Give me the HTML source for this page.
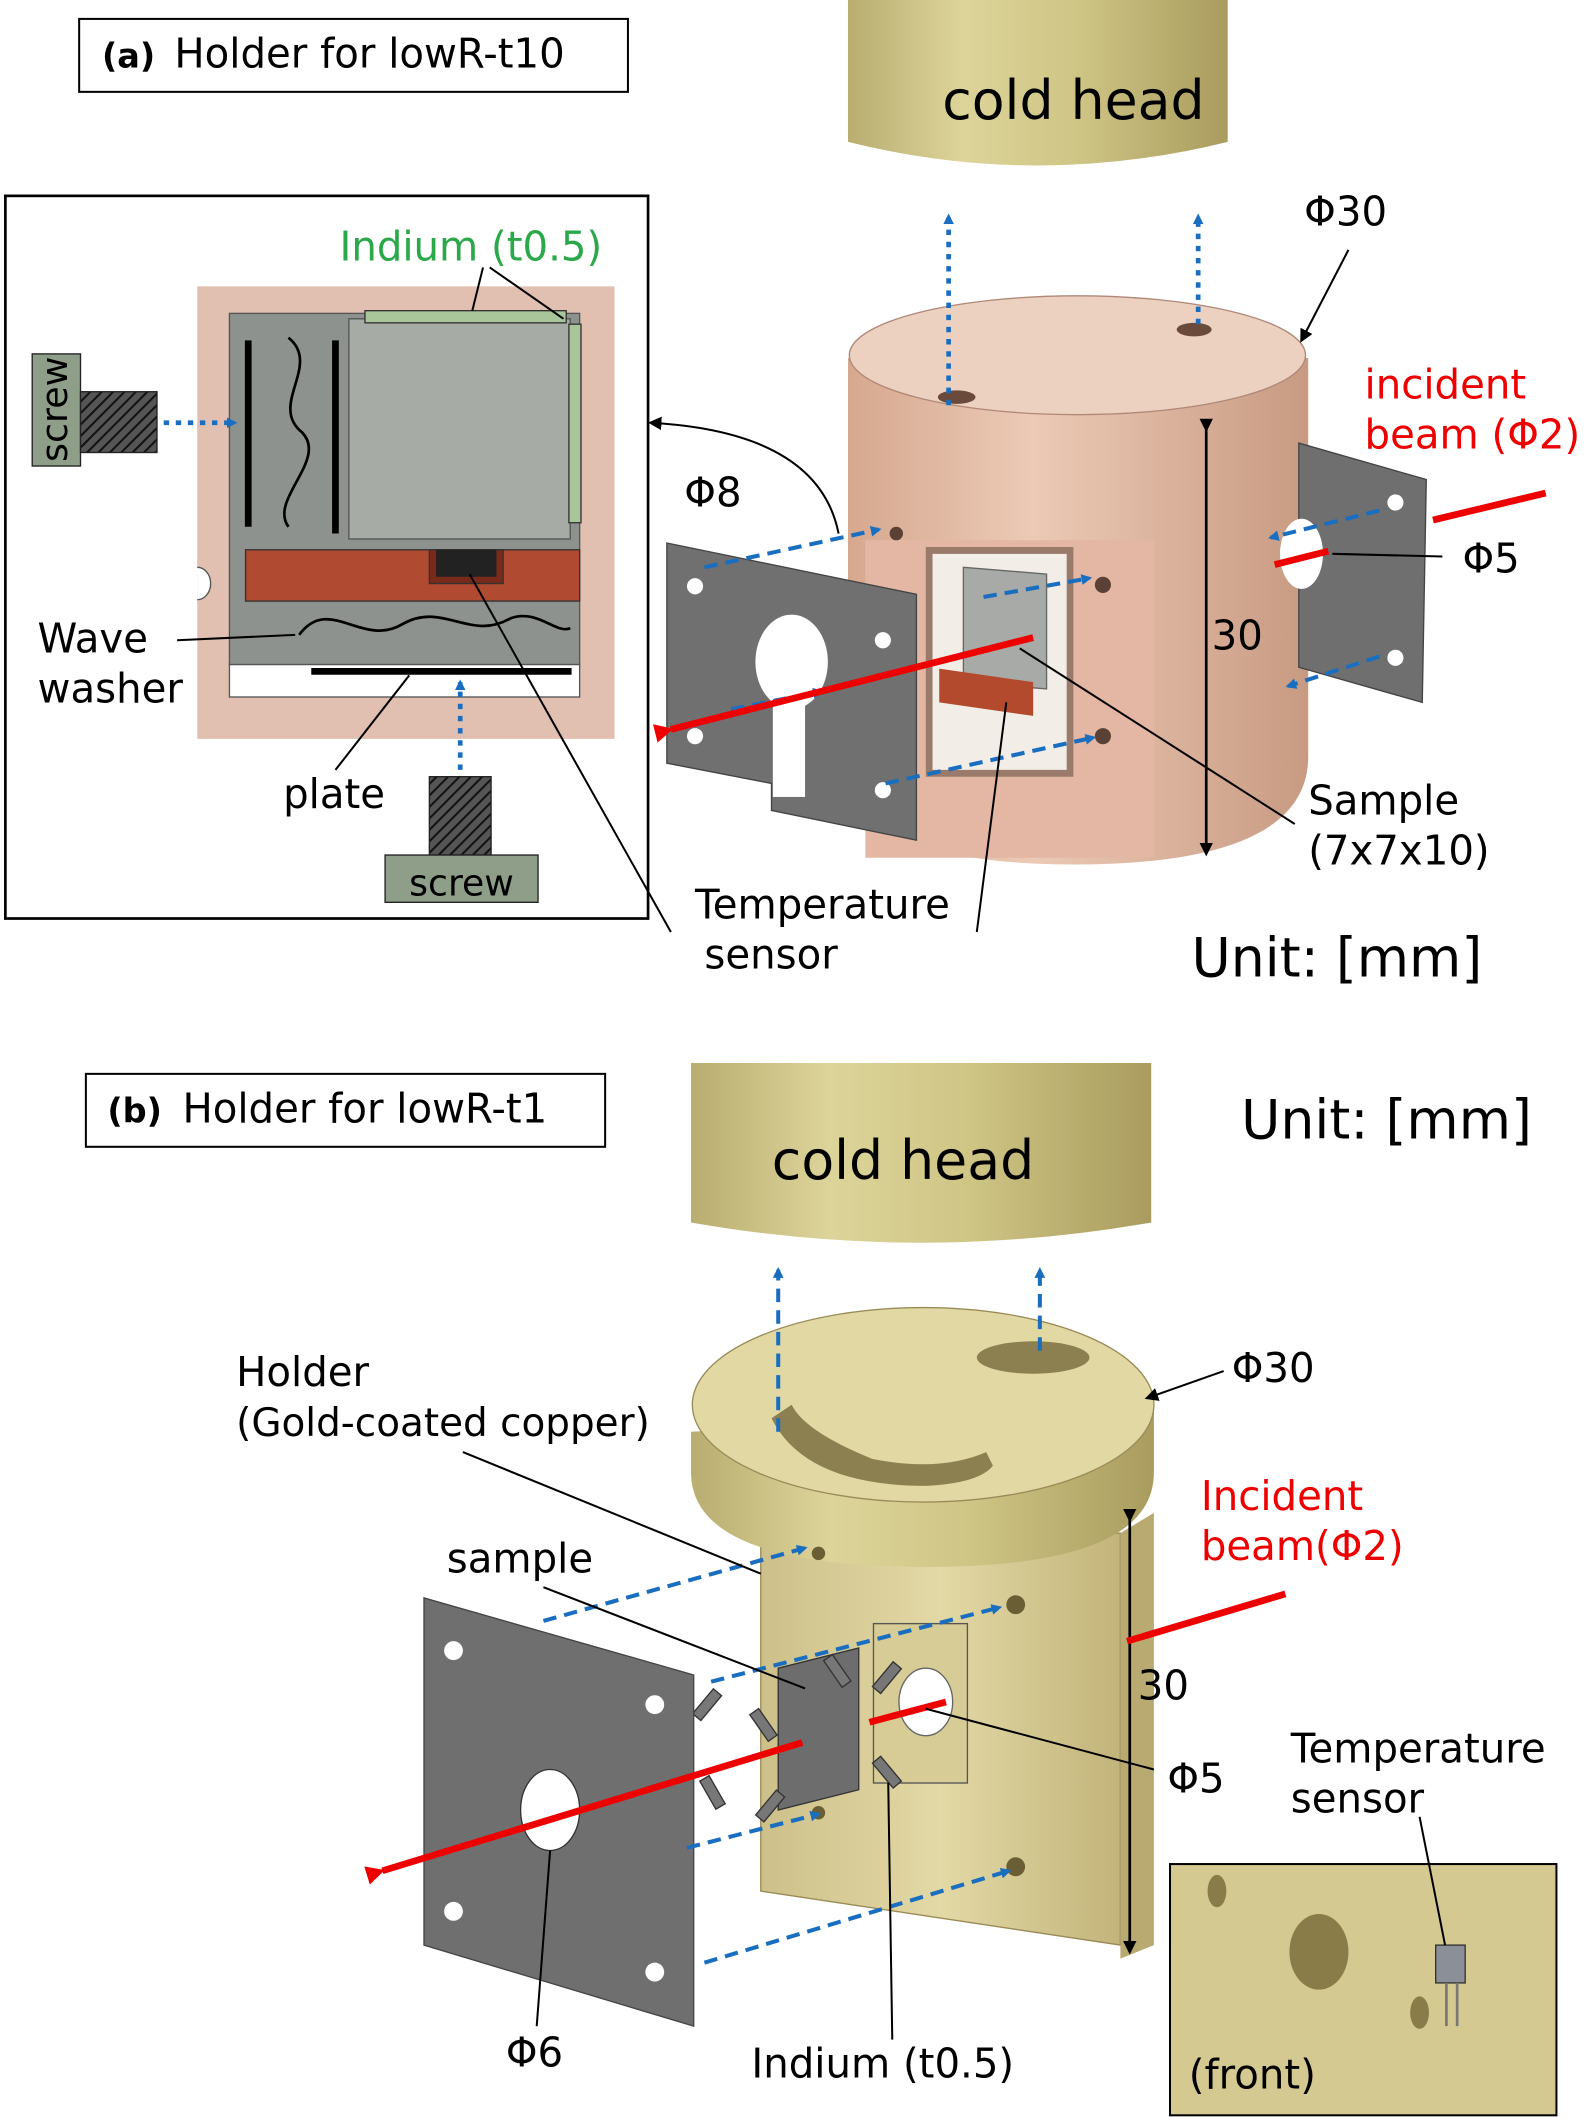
<!DOCTYPE html>
<html><head><meta charset="utf-8"><style>
html,body{margin:0;padding:0;background:#fff;}
svg{display:block;}
text{font-family:"DejaVu Sans","Liberation Sans",sans-serif;}
</style></head><body>
<svg width="1594" height="2118" viewBox="0 0 1188 1568" preserveAspectRatio="none" xmlns="http://www.w3.org/2000/svg">
<defs>
<linearGradient id="gold" x1="0" x2="1" y1="0" y2="0">
<stop offset="0" stop-color="#b9ad70"/><stop offset="0.3" stop-color="#ddd49a"/><stop offset="0.6" stop-color="#cfc585"/><stop offset="1" stop-color="#a99c5e"/></linearGradient>
<linearGradient id="pink" x1="0" x2="1" y1="0" y2="0">
<stop offset="0" stop-color="#d6a88f"/><stop offset="0.4" stop-color="#eccab6"/><stop offset="1" stop-color="#c89a82"/></linearGradient>
<linearGradient id="goldb" x1="0" x2="1"><stop offset="0" stop-color="#cdc08a"/><stop offset="0.5" stop-color="#e3d9a6"/><stop offset="1" stop-color="#c2b47a"/></linearGradient>
<pattern id="hatch" width="6" height="6" patternUnits="userSpaceOnUse" patternTransform="rotate(45)"><rect width="6" height="6" fill="#555"/><line x1="0" y1="0" x2="0" y2="6" stroke="#111" stroke-width="3"/></pattern>
<marker id="ab" markerWidth="8" markerHeight="8" refX="6" refY="4" orient="auto" markerUnits="userSpaceOnUse"><path d="M0,0 L8,4 L0,8z" fill="#1a6ec0"/></marker>
<marker id="ak" markerWidth="10" markerHeight="10" refX="8" refY="5" orient="auto" markerUnits="userSpaceOnUse"><path d="M0,0 L10,5 L0,10z" fill="#000"/></marker>
<marker id="ar" markerWidth="14" markerHeight="14" refX="2" refY="7" orient="auto" markerUnits="userSpaceOnUse"><path d="M14,0 L0,7 L14,14z" fill="#e00"/></marker>
</defs>

<!-- ===== (a) ===== -->
<rect x="59" y="14" width="409" height="54" fill="#fff" stroke="#000" stroke-width="1.5"/>
<text x="76" y="50" font-size="25" font-weight="bold">(a)</text>
<text x="130" y="50" font-size="30">Holder for lowR-t10</text>

<path d="M632,0 H915 V105 Q773,140 632,105 Z" fill="url(#gold)"/>
<text x="800" y="88" font-size="40" text-anchor="middle">cold head</text>

<path d="M632,265 V560 Q632,640 800,640 Q975,640 975,560 V265 Z" fill="url(#pink)"/>
<ellipse cx="803" cy="263" rx="170" ry="44" fill="#ecd0c0" stroke="#b08878" stroke-width="1"/>
<ellipse cx="713" cy="294" rx="14" ry="5" fill="#6a4a3a"/>
<ellipse cx="890" cy="244" rx="13" ry="5" fill="#6a4a3a"/>
<polygon points="645,400 860,400 860,635 645,635" fill="#e3b7a3"/>
<polygon points="690,405 800,405 800,575 690,575" fill="#9a7a6a"/>
<polygon points="695,410 795,410 795,570 695,570" fill="#f3ede8"/>
<polygon points="718,420 780,425 780,510 718,505" fill="#a7aaa6" stroke="#666"/>
<polygon points="700,495 770,505 770,530 700,520" fill="#b34a2e"/>
<circle cx="822" cy="433" r="6" fill="#5a4035"/><circle cx="822" cy="545" r="6" fill="#5a4035"/>
<circle cx="668" cy="395" r="5" fill="#5a4035"/>
<line x1="899" y1="318" x2="899" y2="632" stroke="#000" stroke-width="2" marker-end="url(#ak)" marker-start="url(#ak)"/>
<text x="903" y="481" font-size="30">30</text>

<polygon points="968,328 1063,355 1060,520 968,494" fill="#6f6f6f" stroke="#444"/>
<ellipse cx="970" cy="410" rx="16" ry="26" fill="#fff"/>
<circle cx="1040" cy="372" r="6" fill="#fff"/><circle cx="1040" cy="487" r="6" fill="#fff"/>
<line x1="1068" y1="385" x2="1152" y2="365" stroke="#e00" stroke-width="5"/>
<line x1="950" y1="418" x2="990" y2="408" stroke="#e00" stroke-width="5"/>
<text x="1017" y="295" font-size="30" fill="#e00">incident</text>
<text x="1017" y="332" font-size="30" fill="#e00">beam (Φ2)</text>
<line x1="1028" y1="378" x2="947" y2="398" stroke="#1a6ec0" stroke-width="3" stroke-dasharray="10,6" marker-end="url(#ab)"/>
<line x1="1028" y1="486" x2="960" y2="508" stroke="#1a6ec0" stroke-width="3" stroke-dasharray="10,6" marker-end="url(#ab)"/>
<line x1="993" y1="410" x2="1075" y2="412" stroke="#000" stroke-width="1.5"/>
<text x="1090" y="424" font-size="30">Φ5</text>

<polygon points="497,402 683,440 683,622 575,600 575,580 497,565" fill="#707070" stroke="#444"/>
<ellipse cx="590" cy="490" rx="27" ry="35" fill="#fff"/>
<rect x="576" y="520" width="24" height="70" fill="#fff"/>
<circle cx="518" cy="434" r="6" fill="#fff"/><circle cx="518" cy="545" r="6" fill="#fff"/>
<circle cx="658" cy="474" r="6" fill="#fff"/><circle cx="658" cy="585" r="6" fill="#fff"/>
<text x="510" y="375" font-size="30">Φ8</text>
<line x1="525" y1="420" x2="655" y2="392" stroke="#1a6ec0" stroke-width="3" stroke-dasharray="10,6" marker-end="url(#ab)"/>
<line x1="733" y1="442" x2="812" y2="428" stroke="#1a6ec0" stroke-width="3" stroke-dasharray="10,6" marker-end="url(#ab)"/>
<line x1="660" y1="580" x2="815" y2="546" stroke="#1a6ec0" stroke-width="3" stroke-dasharray="10,6" marker-end="url(#ab)"/>
<line x1="545" y1="525" x2="612" y2="512" stroke="#1a6ec0" stroke-width="3" stroke-dasharray="10,6" marker-end="url(#ab)"/>
<line x1="770" y1="472" x2="500" y2="540" stroke="#e00" stroke-width="5" marker-end="url(#ar)"/>
<line x1="707" y1="300" x2="707" y2="160" stroke="#1a6ec0" stroke-width="3.5" stroke-dasharray="4,5" marker-end="url(#ab)"/>
<line x1="893" y1="240" x2="893" y2="160" stroke="#1a6ec0" stroke-width="3.5" stroke-dasharray="4,5" marker-end="url(#ab)"/>
<text x="972" y="167" font-size="30">Φ30</text>
<line x1="1005" y1="185" x2="970" y2="252" stroke="#000" stroke-width="1.5" marker-end="url(#ak)"/>
<path d="M625,395 Q610,320 485,313" fill="none" stroke="#000" stroke-width="1.5" marker-end="url(#ak)"/>
<text x="975" y="603" font-size="30">Sample</text>
<text x="975" y="640" font-size="30">(7x7x10)</text>
<line x1="760" y1="480" x2="965" y2="610" stroke="#000" stroke-width="1.5"/>
<text x="518" y="680" font-size="30">Temperature</text>
<text x="525" y="717" font-size="30">sensor</text>
<line x1="728" y1="690" x2="750" y2="520" stroke="#000" stroke-width="1.5"/>
<text x="888" y="723" font-size="40">Unit: [mm]</text>

<rect x="4" y="145" width="479" height="535" fill="#fff" stroke="#000" stroke-width="2"/>
<rect x="147" y="212" width="311" height="335" fill="#e2c0b1"/>
<rect x="171" y="232" width="261" height="260" fill="#8e928e" stroke="#555"/>
<rect x="171" y="492" width="261" height="24" fill="#fff" stroke="#555"/>
<rect x="260" y="236" width="165" height="163" fill="#a6aba6" stroke="#555"/>
<rect x="272" y="230" width="150" height="9" fill="#a9c59a" stroke="#333"/>
<rect x="424" y="240" width="9" height="147" fill="#a9c59a" stroke="#333"/>
<text x="253" y="193" font-size="30" fill="#2aa84a">Indium (t0.5)</text>
<line x1="360" y1="198" x2="352" y2="230" stroke="#000" stroke-width="1.5"/>
<line x1="365" y1="198" x2="420" y2="236" stroke="#000" stroke-width="1.5"/>
<rect x="183" y="407" width="249" height="38" fill="#b04a30" stroke="#333"/>
<rect x="320" y="407" width="55" height="25" fill="#7a2a1a" stroke="#333"/>
<rect x="325" y="407" width="45" height="20" fill="#222"/>
<line x1="185" y1="252" x2="185" y2="390" stroke="#000" stroke-width="5"/>
<line x1="250" y1="252" x2="250" y2="395" stroke="#000" stroke-width="5"/>
<path d="M215,250 C240,270 200,300 225,320 C245,340 200,370 215,390" fill="none" stroke="#000" stroke-width="2"/>
<path d="M223,470 C245,440 270,480 300,462 C330,445 350,475 380,458 C400,450 415,470 425,465" fill="none" stroke="#000" stroke-width="2"/>
<line x1="232" y1="497" x2="426" y2="497" stroke="#000" stroke-width="5"/>
<path d="M147,420 A10,12 0 0,1 147,444" fill="#fff" stroke="#555"/>
<rect x="24" y="262" width="36" height="83" fill="#8f9e88" stroke="#222"/>
<text transform="translate(50,303) rotate(-90)" font-size="27" text-anchor="middle">screw</text>
<rect x="60" y="290" width="57" height="45" fill="url(#hatch)" stroke="#222"/>
<line x1="122" y1="313" x2="175" y2="313" stroke="#1a6ec0" stroke-width="3.5" stroke-dasharray="4,5" marker-end="url(#ab)"/>
<rect x="320" y="575" width="46" height="58" fill="url(#hatch)" stroke="#222"/>
<rect x="287" y="633" width="114" height="35" fill="#8f9e88" stroke="#222"/>
<text x="344" y="663" font-size="27" text-anchor="middle">screw</text>
<line x1="343" y1="570" x2="343" y2="505" stroke="#1a6ec0" stroke-width="3.5" stroke-dasharray="4,5" marker-end="url(#ab)"/>
<text x="28" y="483" font-size="30">Wave</text>
<text x="28" y="520" font-size="30">washer</text>
<line x1="132" y1="474" x2="220" y2="470" stroke="#000" stroke-width="1.5"/>
<text x="211" y="598" font-size="30">plate</text>
<line x1="250" y1="570" x2="305" y2="500" stroke="#000" stroke-width="1.5"/>
<line x1="500" y1="690" x2="350" y2="425" stroke="#000" stroke-width="1.5"/>

<!-- ===== (b) ===== -->
<rect x="64" y="795" width="387" height="54" fill="#fff" stroke="#000" stroke-width="1.5"/>
<text x="80" y="831" font-size="25" font-weight="bold">(b)</text>
<text x="136" y="831" font-size="30">Holder for lowR-t1</text>
<text x="925" y="843" font-size="40">Unit: [mm]</text>
<path d="M515,787 H858 V905 Q686,935 515,905 Z" fill="url(#gold)"/>
<text x="673" y="873" font-size="40" text-anchor="middle">cold head</text>

<polygon points="567,1135 835,1135 835,1440 567,1400" fill="url(#goldb)" stroke="#998a55"/>
<polygon points="835,1135 860,1120 860,1440 835,1450" fill="#b8aa70"/>
<path d="M515,1060 V1090 Q515,1160 690,1160 Q860,1160 860,1090 V1040 Z" fill="url(#gold)"/>
<ellipse cx="688" cy="1040" rx="172" ry="72" fill="#e2d8a4" stroke="#9a8c58"/>
<path d="M575,1050 Q600,1100 690,1100 Q730,1098 740,1085 L735,1075 Q700,1090 650,1080 Q600,1060 590,1040 Z" fill="#8c8050"/>
<ellipse cx="770" cy="1005" rx="42" ry="12" fill="#8c8050"/>
<rect x="651" y="1202" width="70" height="118" fill="#d8cc96" stroke="#555"/>
<ellipse cx="690" cy="1260" rx="20" ry="25" fill="#fff" stroke="#666"/>
<circle cx="757" cy="1188" r="7" fill="#6a5e35"/><circle cx="757" cy="1382" r="7" fill="#6a5e35"/>
<circle cx="610" cy="1150" r="5" fill="#6a5e35"/><circle cx="610" cy="1342" r="5" fill="#6a5e35"/>
<polygon points="580,1235 640,1220 640,1325 580,1340" fill="#6d6d6d" stroke="#333"/>
<g fill="#777" stroke="#333">
<rect x="565" y="1265" width="8" height="24" transform="rotate(-35 569 1277)"/>
<rect x="523" y="1250" width="8" height="24" transform="rotate(40 527 1262)"/>
<rect x="527" y="1315" width="8" height="24" transform="rotate(-30 531 1327)"/>
<rect x="570" y="1325" width="8" height="24" transform="rotate(40 574 1337)"/>
<rect x="620" y="1225" width="8" height="24" transform="rotate(-35 624 1237)"/>
<rect x="657" y="1230" width="8" height="24" transform="rotate(40 661 1242)"/>
<rect x="657" y="1300" width="8" height="24" transform="rotate(-40 661 1312)"/>
</g>
<line x1="842" y1="1125" x2="842" y2="1445" stroke="#000" stroke-width="2" marker-end="url(#ak)" marker-start="url(#ak)"/>
<text x="848" y="1258" font-size="30">30</text>

<polygon points="316,1183 517,1240 517,1500 316,1440" fill="#6f6f6f" stroke="#444"/>
<ellipse cx="410" cy="1340" rx="22" ry="30" fill="#fff" stroke="#333"/>
<circle cx="338" cy="1222" r="7" fill="#fff"/><circle cx="488" cy="1262" r="7" fill="#fff"/>
<circle cx="338" cy="1415" r="7" fill="#fff"/><circle cx="488" cy="1460" r="7" fill="#fff"/>
<line x1="598" y1="1290" x2="285" y2="1385" stroke="#e00" stroke-width="5" marker-end="url(#ar)"/>
<line x1="648" y1="1275" x2="705" y2="1260" stroke="#e00" stroke-width="5"/>
<line x1="840" y1="1215" x2="958" y2="1180" stroke="#e00" stroke-width="5"/>
<text x="895" y="1118" font-size="30" fill="#e00">Incident</text>
<text x="895" y="1155" font-size="30" fill="#e00">beam(Φ2)</text>
<g stroke="#1a6ec0" stroke-width="3" stroke-dasharray="10,6" fill="none">
<line x1="580" y1="1060" x2="580" y2="940" marker-end="url(#ab)"/>
<line x1="775" y1="1000" x2="775" y2="940" marker-end="url(#ab)"/>
<line x1="405" y1="1200" x2="600" y2="1146" marker-end="url(#ab)"/>
<line x1="530" y1="1245" x2="745" y2="1190" marker-end="url(#ab)"/>
<line x1="512" y1="1368" x2="610" y2="1343" marker-end="url(#ab)"/>
<line x1="525" y1="1453" x2="752" y2="1385" marker-end="url(#ab)"/>
</g>
<text x="918" y="1023" font-size="30">Φ30</text>
<line x1="912" y1="1015" x2="855" y2="1035" stroke="#000" stroke-width="1.5" marker-end="url(#ak)"/>
<text x="176" y="1026" font-size="30">Holder</text>
<text x="176" y="1063" font-size="29">(Gold-coated copper)</text>
<line x1="345" y1="1075" x2="567" y2="1165" stroke="#000" stroke-width="1.5"/>
<text x="333" y="1164" font-size="30">sample</text>
<line x1="405" y1="1175" x2="600" y2="1250" stroke="#000" stroke-width="1.5"/>
<line x1="690" y1="1265" x2="860" y2="1310" stroke="#000" stroke-width="1.5"/>
<text x="870" y="1327" font-size="30">Φ5</text>
<text x="377" y="1530" font-size="30">Φ6</text>
<line x1="400" y1="1500" x2="410" y2="1370" stroke="#000" stroke-width="1.5"/>
<text x="560" y="1538" font-size="30">Indium (t0.5)</text>
<line x1="665" y1="1510" x2="662" y2="1320" stroke="#000" stroke-width="1.5"/>
<text x="962" y="1305" font-size="30">Temperature</text>
<text x="962" y="1342" font-size="30">sensor</text>

<rect x="872" y="1380" width="288" height="186" fill="#d5c992" stroke="#000" stroke-width="1.5"/>
<ellipse cx="983" cy="1445" rx="22" ry="28" fill="#8a7c48"/>
<ellipse cx="907" cy="1400" rx="7" ry="12" fill="#8a7c48"/>
<ellipse cx="1058" cy="1490" rx="7" ry="12" fill="#8a7c48"/>
<rect x="1070" y="1440" width="22" height="28" fill="#8a8f98" stroke="#333"/>
<line x1="1078" y1="1468" x2="1078" y2="1500" stroke="#777" stroke-width="2"/>
<line x1="1086" y1="1468" x2="1086" y2="1500" stroke="#777" stroke-width="2"/>
<line x1="1058" y1="1345" x2="1077" y2="1440" stroke="#000" stroke-width="1.5"/>
<text x="886" y="1546" font-size="30">(front)</text>
</svg>
</body></html>
